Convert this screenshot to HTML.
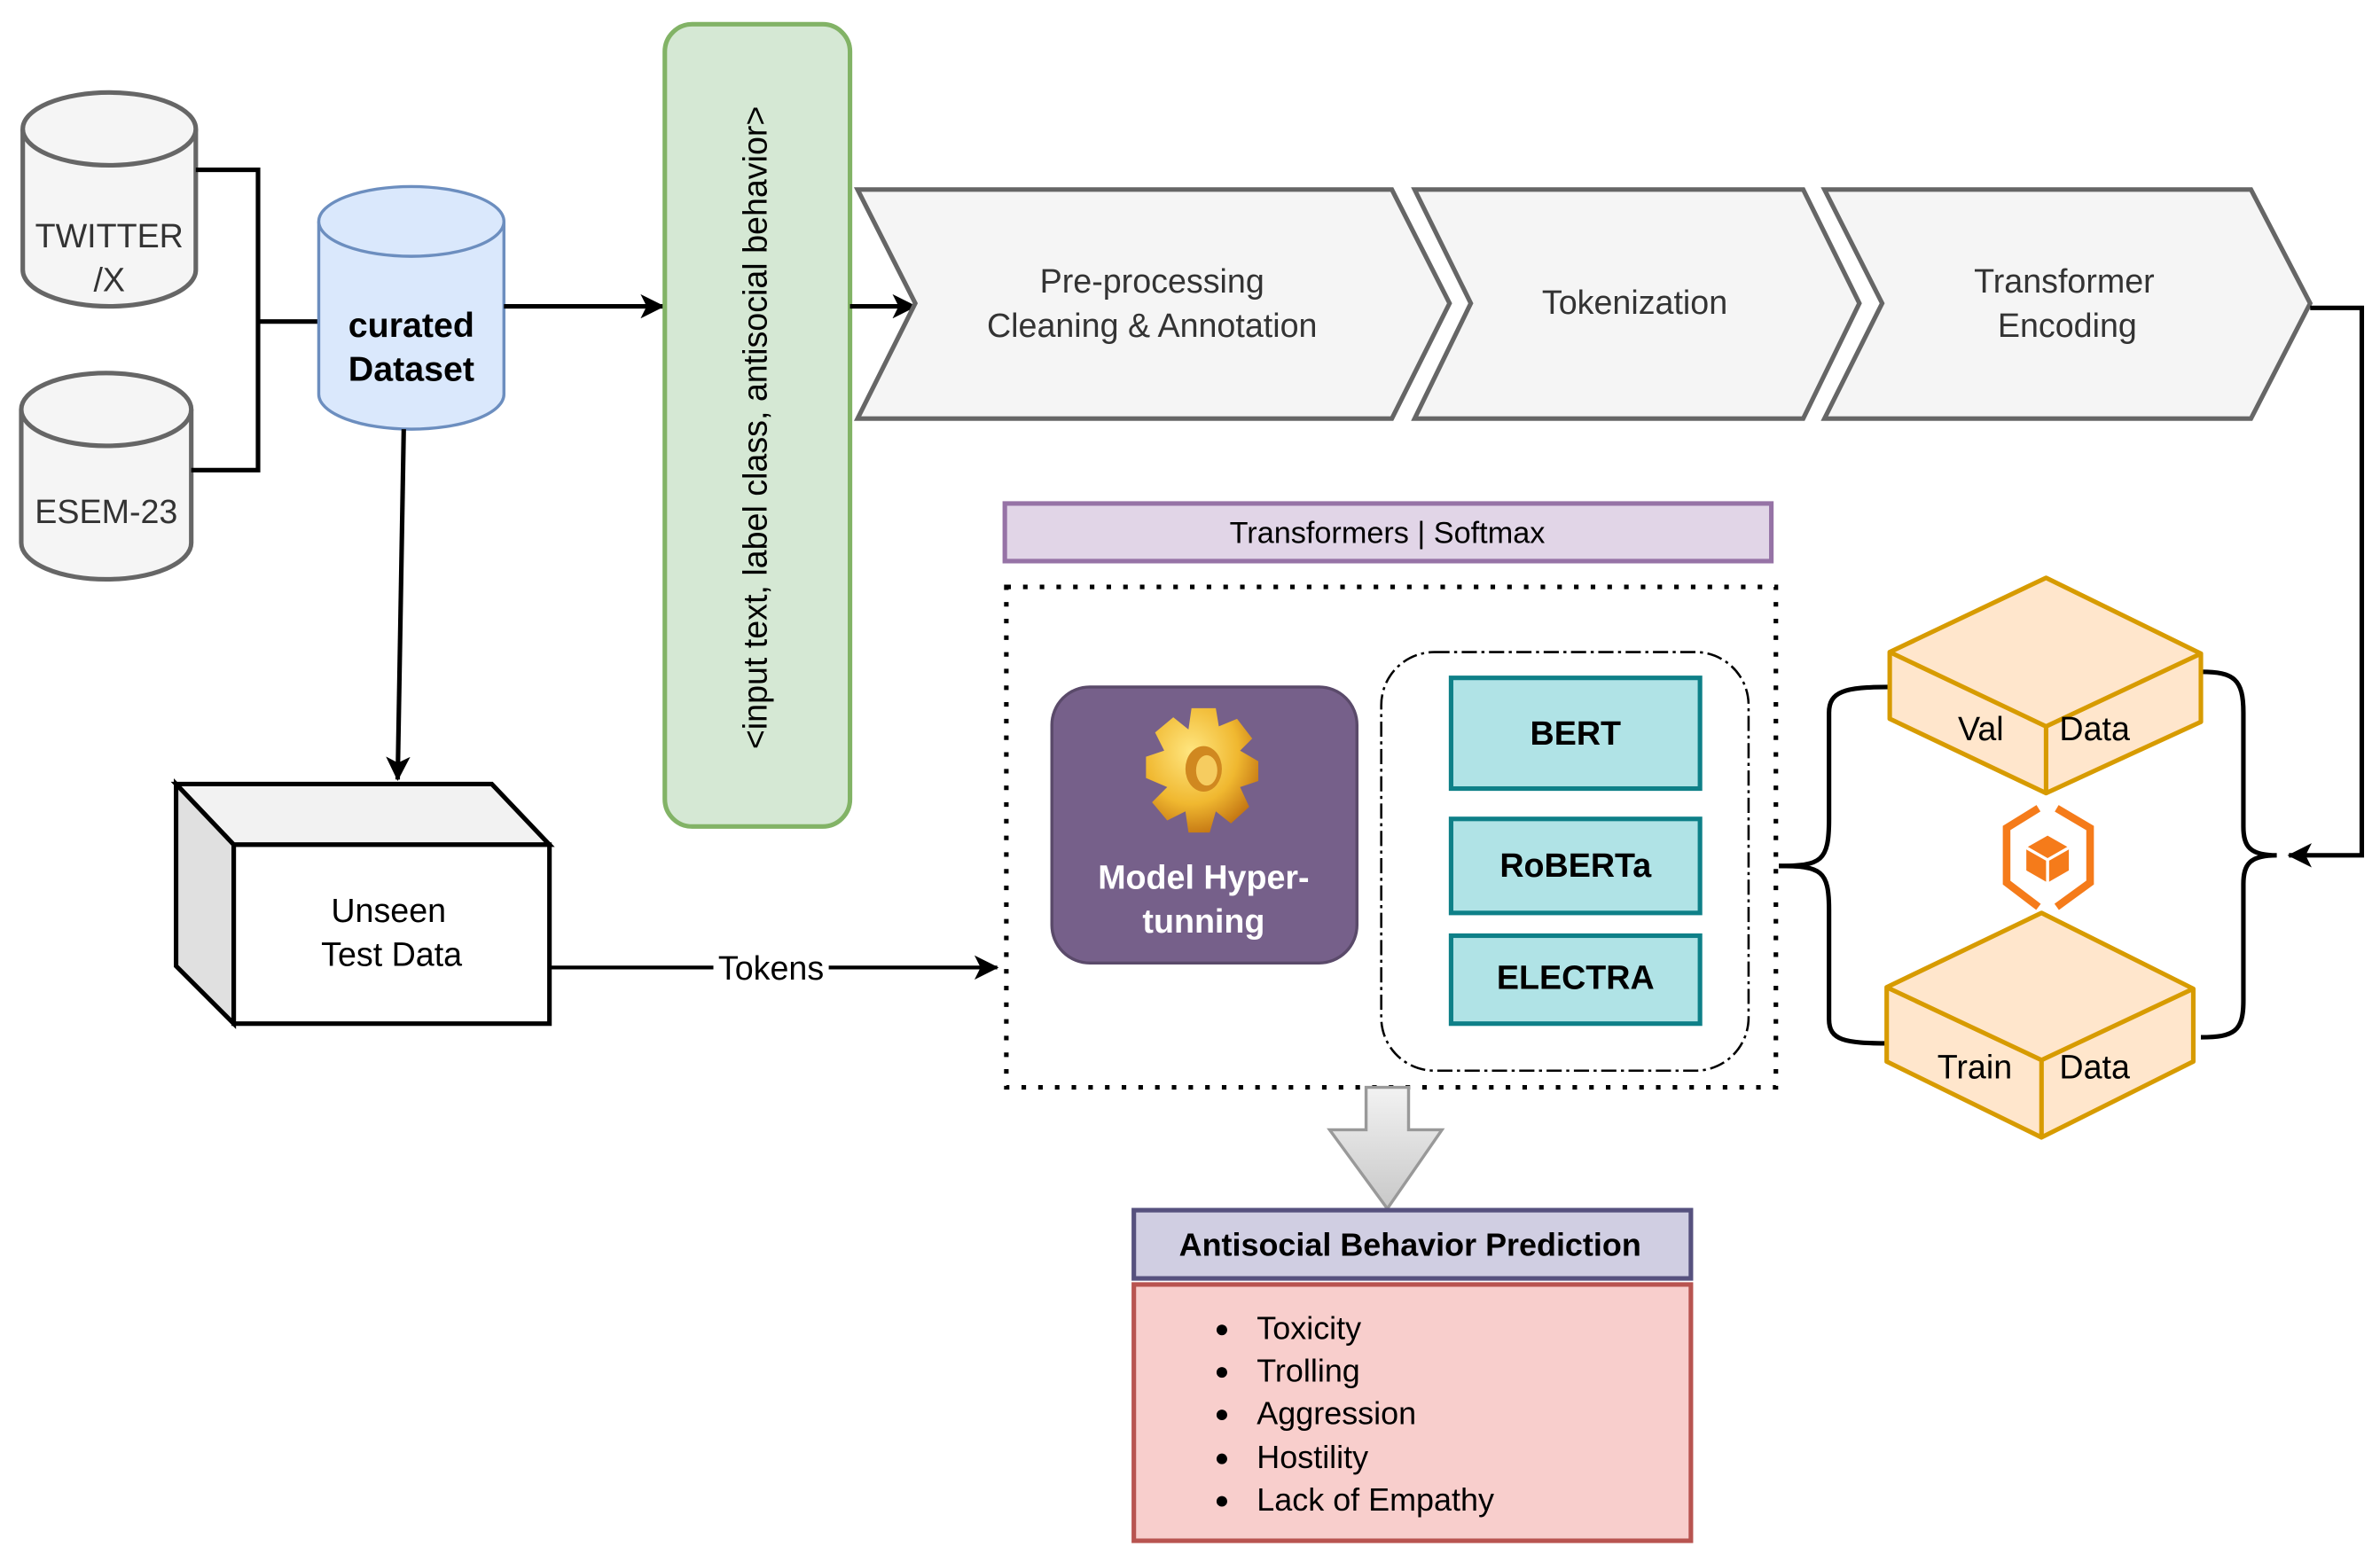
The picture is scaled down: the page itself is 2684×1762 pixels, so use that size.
<!DOCTYPE html>
<html><head><meta charset="utf-8"><style>html,body{margin:0;padding:0;background:#fff}svg{display:block}</style></head>
<body>
<svg width="2684" height="1762" viewBox="0 0 1568 1030" preserveAspectRatio="none" xmlns="http://www.w3.org/2000/svg" font-family="Liberation Sans, sans-serif">
<defs>
<marker id="ah" markerWidth="16" markerHeight="16" refX="15" refY="8" orient="auto" markerUnits="userSpaceOnUse"><path d="M0,0 L16,8 L0,16 L4,8 Z" fill="#000"/></marker>
<linearGradient id="gr" x1="0" y1="0" x2="0" y2="1"><stop offset="0" stop-color="#f2f2f2"/><stop offset="1" stop-color="#c8c8c8"/></linearGradient>
<radialGradient id="gear" cx="0.4" cy="0.35" r="0.7"><stop offset="0" stop-color="#ffe680"/><stop offset="0.6" stop-color="#f0b830"/><stop offset="1" stop-color="#c07010"/></radialGradient>
</defs>
<g stroke="#666" stroke-width="3" fill="#f5f5f5">
<path d="M15,85 L15,178 A57,24 0 0 0 129,178 L129,85"/><ellipse cx="72" cy="85" rx="57" ry="24"/>
<path d="M14,270 L14,358 A56,24 0 0 0 126,358 L126,270"/><ellipse cx="70" cy="270" rx="56" ry="24"/>
</g>
<text x="72" y="163" font-size="22" text-anchor="middle" fill="#333">TWITTER</text>
<text x="72" y="192" font-size="22" text-anchor="middle" fill="#333">/X</text>
<text x="70" y="345" font-size="22" text-anchor="middle" fill="#333">ESEM-23</text>
<path d="M129,112 H170 V310 H126 M170,212 H210" fill="none" stroke="#000" stroke-width="3"/>
<g stroke="#6c8ebf" stroke-width="2" fill="#dae8fc">
<path d="M210,146 L210,260 A61,23 0 0 0 332,260 L332,146"/><ellipse cx="271" cy="146" rx="61" ry="23"/>
</g>
<text x="271" y="222" font-size="23" font-weight="bold" text-anchor="middle">curated</text>
<text x="271" y="251" font-size="23" font-weight="bold" text-anchor="middle">Dataset</text>
<path d="M332,202 H437" stroke="#000" stroke-width="3" marker-end="url(#ah)"/>
<path d="M266,283 L262,514" stroke="#000" stroke-width="3" marker-end="url(#ah)"/>
<rect x="438" y="16" width="122" height="529" rx="18" fill="#d5e8d4" stroke="#82b366" stroke-width="3"/>
<text transform="translate(505,282) rotate(-90)" font-size="22" text-anchor="middle">&lt;input  text, label class, antisocial behavior&gt;</text>
<path d="M560,202 H603" stroke="#000" stroke-width="3" marker-end="url(#ah)"/>
<g fill="#f5f5f5" stroke="#666" stroke-width="3">
<path d="M565,125 H917 L955,200 L917,276 H565 L603,200 Z"/>
<path d="M932,125 H1188 L1225,200 L1188,276 H932 L969,200 Z"/>
<path d="M1202,125 H1483 L1522,200 L1483,276 H1202 L1240,200 Z"/>
</g>
<g font-size="22" text-anchor="middle" fill="#333">
<text x="759" y="193">Pre-processing</text><text x="759" y="222">Cleaning &amp; Annotation</text>
<text x="1077" y="207">Tokenization</text>
<text x="1360" y="193">Transformer</text><text x="1362" y="222">Encoding</text>
</g>
<path d="M1522,203 H1556 V564 H1508" fill="none" stroke="#000" stroke-width="3" marker-end="url(#ah)"/>
<rect x="662" y="332" width="505" height="38" fill="#e1d5e7" stroke="#9673a6" stroke-width="3"/>
<text x="914" y="358" font-size="20" text-anchor="middle">Transformers | Softmax</text>
<rect x="663" y="387" width="507" height="330" fill="none" stroke="#000" stroke-width="3" stroke-dasharray="3,8"/>
<rect x="910" y="430" width="242" height="276" rx="35" fill="none" stroke="#000" stroke-width="1.5" stroke-dasharray="10,3,2,3"/>
<rect x="693" y="453" width="201" height="182" rx="25" fill="#76608a" stroke="#5a4a6a" stroke-width="2"/>
<g transform="translate(793,507)">
<path d="M-8,-40 L8,-40 L10,-28 L22,-33 L32,-20 L24,-12 L36,-5 L36,8 L24,12 L30,25 L18,36 L8,28 L4,42 L-10,42 L-12,28 L-24,34 L-34,22 L-24,12 L-38,6 L-38,-8 L-26,-12 L-32,-24 L-20,-34 L-10,-26 Z" fill="url(#gear)"/>
<ellipse cx="0" cy="0" rx="12" ry="15" fill="#d08820"/><ellipse cx="2" cy="1" rx="7" ry="10" fill="#f6cc60"/>
</g>
<text x="793" y="586" font-size="22" font-weight="bold" fill="#fff" text-anchor="middle">Model Hyper-</text>
<text x="793" y="615" font-size="22" font-weight="bold" fill="#fff" text-anchor="middle">tunning</text>
<g fill="#b0e3e6" stroke="#0e8088" stroke-width="3">
<rect x="956" y="447" width="164" height="73"/><rect x="956" y="540" width="164" height="62"/><rect x="956" y="617" width="164" height="58"/>
</g>
<g font-size="22" font-weight="bold" text-anchor="middle">
<text x="1038" y="491">BERT</text><text x="1038" y="578">RoBERTa</text><text x="1038" y="652">ELECTRA</text>
</g>
<path d="M116,517 H324 L362,557 H154 Z" fill="#f2f2f2" stroke="#000" stroke-width="3"/>
<path d="M116,517 L154,557 V675 L116,637 Z" fill="#e0e0e0" stroke="#000" stroke-width="3"/>
<rect x="154" y="557" width="208" height="118" fill="#fff" stroke="#000" stroke-width="3"/>
<text x="256" y="608" font-size="22" text-anchor="middle">Unseen</text>
<text x="258" y="637" font-size="22" text-anchor="middle">Test Data</text>
<path d="M362,638 H470 M546,638 H657" stroke="#000" stroke-width="2.5" marker-end="url(#ah)"/>
<text x="508" y="646" font-size="22" text-anchor="middle">Tokens</text>
<path d="M900,717 H928 V745 H950 L914,797 L876,745 H900 Z" fill="url(#gr)" stroke="#999" stroke-width="2"/>
<rect x="747" y="798" width="367" height="45" fill="#d0cee2" stroke="#56517e" stroke-width="3"/>
<text x="929" y="828" font-size="21" font-weight="bold" text-anchor="middle">Antisocial Behavior Prediction</text>
<rect x="747" y="847" width="367" height="169" fill="#f8cecc" stroke="#b85450" stroke-width="3"/>
<g font-size="21">
<text x="828" y="883">Toxicity</text><text x="828" y="911">Trolling</text><text x="828" y="939">Aggression</text><text x="828" y="968">Hostility</text><text x="828" y="996">Lack of Empathy</text>
</g>
<g fill="#000"><circle cx="805" cy="877" r="3.5"/><circle cx="805" cy="905" r="3.5"/><circle cx="805" cy="933" r="3.5"/><circle cx="805" cy="962" r="3.5"/><circle cx="805" cy="990" r="3.5"/></g>
<path d="M1172,571 C1200,571 1205,568 1205,540 V470 C1205,456 1215,453 1245,453" fill="none" stroke="#000" stroke-width="3"/>
<path d="M1172,571 C1200,571 1205,574 1205,600 V672 C1205,686 1215,688 1245,688" fill="none" stroke="#000" stroke-width="3"/>
<path d="M1450,443 C1472,443 1478,448 1478,470 V545 C1478,558 1482,564 1500,564 C1482,564 1478,570 1478,583 V660 C1478,680 1472,684 1450,684" fill="none" stroke="#000" stroke-width="3"/>
<g fill="#ffe6cc" stroke="#d79b00" stroke-width="3" stroke-linejoin="round">
<path d="M1348,381 L1450,431 L1450,476 L1348,523 L1245,474 L1245,430 Z"/>
<path d="M1245,430 L1348,479 L1450,431 M1348,479 V523" fill="none"/>
<path d="M1345,602 L1445,652 L1445,700 L1345,750 L1243,700 L1243,651 Z"/>
<path d="M1243,651 L1345,699 L1445,652 M1345,699 V750" fill="none"/>
</g>
<g font-size="22" text-anchor="middle">
<text x="1305" y="488">Val</text><text x="1380" y="488">Data</text>
<text x="1301" y="711">Train</text><text x="1380" y="711">Data</text>
</g>
<g fill="none" stroke="#f57b1a" stroke-width="5">
<path d="M1343,533 L1322,546 V582 L1343,598 M1355,533 L1377,546 V582 L1355,598"/>
</g>
<path d="M1349,551 L1363,559 V574 L1349,582 L1335,574 V559 Z" fill="#f57b1a"/>
<path d="M1335,559 L1349,567 L1363,559 M1349,567 V582" stroke="#fff" stroke-width="2" fill="none"/>
</svg>
</body></html>
